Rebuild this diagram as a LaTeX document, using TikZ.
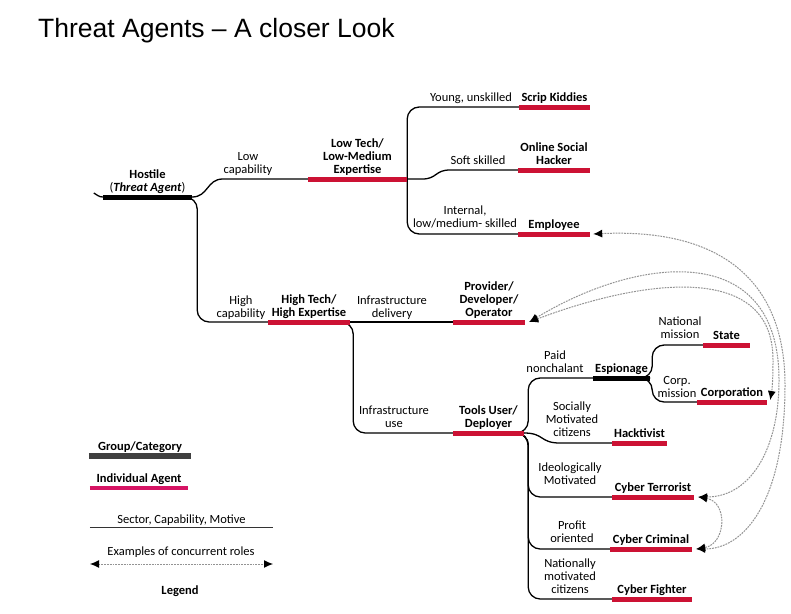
\documentclass[tikz,border=0pt]{standalone}
\usepackage{fontspec}
\setmainfont{Carlito}
\newfontfamily\titlefont{Liberation Sans}
\usetikzlibrary{arrows.meta}

\definecolor{agentred}{RGB}{204,18,52}
\definecolor{legendred}{RGB}{214,20,100}
\definecolor{groupgray}{RGB}{64,64,64}
\newcommand{\labelsize}{\fontsize{12.5}{13}\selectfont}

\tikzset{
	agent/.style={font=\labelsize\bfseries, align=center, anchor=south, inner xsep=0pt, inner ysep=2pt, text depth=3pt},
	motive/.style={font=\labelsize, align=center, anchor=south, inner xsep=0pt, inner ysep=0pt, text depth=3pt},
	redbar/.style={line width=5pt, agentred},
	blackbar/.style={line width=5pt, black},
	branch/.style={line width=1.3pt, rounded corners=12pt},
	curvebranch/.style={line width=1.3pt, sharp corners},
	roles/.style={gray!85, line width=1pt, dash pattern=on 1.8pt off 1pt, {Latex[length=9pt,width=8pt,color=black]}-{Latex[length=9pt,width=8pt,color=black]}}
}

\begin{document}
\begin{tikzpicture}[x=1pt, y=-1pt]
	\useasboundingbox[fill=white] (0,0) rectangle (791,613);
	
	\node[anchor=base west, inner sep=0pt, font=\titlefont\fontsize{26.5}{30}\selectfont] (title) at (38,37) {Threat Agents – A closer Look};
	
	% agents
	\node[agent, minimum width=89] (hostile) at (147.5,197) {Hostile\\{\mdseries(}\textit{Threat Agent}{\mdseries)}};
	\node[agent, minimum width=99] (lowtech) at (357.5,179) {Low Tech/\\Low-Medium\\Expertise};
	\node[agent, minimum width=71] (scrip) at (554.5,107) {Scrip Kiddies};
	\node[agent, minimum width=72] (hacker) at (554,170) {Online Social\\Hacker};
	\node[agent, minimum width=72] (employee) at (554,234) {Employee};
	\node[agent, minimum width=82] (hightech) at (309,322) {High Tech/\\High Expertise};
	\node[agent, minimum width=72] (provider) at (489,322) {Provider/\\Developer/\\Operator};
	\node[agent, minimum width=71] (tools) at (488.5,433) {Tools User/\\Deployer};
	\node[agent, minimum width=57] (espionage) at (621.5,378) {Espionage};
	\node[agent, minimum width=47] (state) at (726.5,345) {State};
	\node[agent, minimum width=70] (corporation) at (732,402) {Corporation};
	\node[agent, minimum width=55] (hacktivist) at (639.5,443) {Hacktivist};
	\node[agent, minimum width=82] (terrorist) at (653,497) {Cyber Terrorist};
	\node[agent, minimum width=82] (criminal) at (651,549) {Cyber Criminal};
	\node[agent, minimum width=80] (fighter) at (652,599) {Cyber Fighter};
	
	% sector, capability, motive
	\node[motive] (lowcap) at (248,177) {Low\\capability};
	\node[motive] (young) at (471,105) {Young, unskilled};
	\node[motive] (soft) at (478,168) {Soft skilled};
	\node[motive] (internal) at (465,231) {Internal,\\low/medium- skilled};
	\node[motive] (highcap) at (241,321) {High\\capability};
	\node[motive] (infdel) at (392,321) {Infrastructure\\delivery};
	\node[motive] (infuse) at (394,431) {Infrastructure\\use};
	\node[motive] (paid) at (555,376) {Paid\\nonchalant};
	\node[motive] (natmis) at (680,342) {National\\mission};
	\node[motive] (corpmis) at (677,401) {Corp.\\mission};
	\node[motive] (social) at (572,440) {Socially\\Motivated\\citizens};
	\node[motive] (ideo) at (570,488) {Ideologically\\Motivated};
	\node[motive] (profit) at (572,546) {Profit\\oriented};
	\node[motive] (national) at (570,597) {Nationally\\motivated\\citizens};
	
	% tree
	\draw[curvebranch] (hostile.south west) to[out=180,in=-30] ++(-9,-4);
	\draw[curvebranch] (hostile.south east) .. controls +(16,0) and +(-16,0) .. ([xshift=-85pt]lowtech.south west) -- (lowtech.south west);
	\draw[branch] (hostile.south east) -- ++(5,0) |- (hightech.south west);
	\draw[branch] (lowtech.south east) |- (scrip.south west);
	\draw[curvebranch] (lowtech.south east) -- ++(15,0) .. controls +(15,0) and +(-15,0) .. ([xshift=-68pt]hacker.south west) -- (hacker.south west);
	\draw[branch] (lowtech.south east) |- (employee.south west);
	\draw[branch] (hightech.south east) -- (provider.south west);
	\draw[branch] (hightech.south east) -- ++(3,0) |- (tools.south west);
	\draw[branch] (tools.south east) -- ++(4,0) |- (espionage.south west);
	\draw[curvebranch] (tools.south east) .. controls +(20,0) and +(-20,0) .. ([xshift=-52pt]hacktivist.south west) -- (hacktivist.south west);
	\foreach \n in {terrorist,criminal,fighter}
		\draw[branch] (tools.south east) -- ++(4,0) |- (\n.south west);
	\draw[branch] (espionage.south east) -- ++(2,0) |- (state.south west);
	\draw[branch] (espionage.south east) -- ++(2,0) |- (corporation.south west);
	
	\foreach \n in {lowtech,scrip,hacker,employee,hightech,provider,tools,state,corporation,hacktivist,terrorist,criminal,fighter}
		\draw[redbar] (\n.south west) -- (\n.south east);
	\foreach \n in {hostile,espionage}
		\draw[blackbar] (\n.south west) -- (\n.south east);
	
	% concurrent roles
	\draw[roles] ([xshift=3pt]employee.south east) .. controls (720,228) and (785,280) .. (785,385) .. controls (785,500) and (745,549) .. ([xshift=4pt]criminal.south east);
	\draw[roles] ([xshift=4pt]provider.south east) .. controls (640,255) and (779,240) .. (779,380) .. controls (779,450) and (750,497) .. ([xshift=4pt]terrorist.south east);
	\draw[roles] ([xshift=4pt]provider.south east) .. controls (640,280) and (773,260) .. (773,360) .. controls (773,380) and (772,390) .. ([xshift=3pt,yshift=2pt]corporation.south east);
	\draw[roles] ([xshift=4pt]terrorist.south east) .. controls +(30,5) and +(30,-5) .. ([xshift=4pt]criminal.south east);
	
	% legend
	\node[agent, minimum width=102] (groupleg) at (140,456) {Group/Category};
	\draw[line width=6pt, groupgray] (groupleg.south west) -- (groupleg.south east);
	\node[agent, minimum width=98] (indleg) at (139,488) {Individual Agent};
	\draw[line width=4pt, legendred] (indleg.south west) -- (indleg.south east);
	\node[motive, minimum width=183] (sector) at (181.5,527) {Sector, Capability, Motive};
	\draw[line width=1pt, black!80] (sector.south west) -- (sector.south east);
	\node[motive] (examples) at (181,559) {Examples of concurrent roles};
	\coordinate (legA) at (90,564);
	\coordinate (legB) at (273,564);
	\draw[roles] (legA) -- (legB);
	\node[motive, font=\labelsize\bfseries] (legend) at (180,598) {Legend};
	
\end{tikzpicture}
\end{document}
